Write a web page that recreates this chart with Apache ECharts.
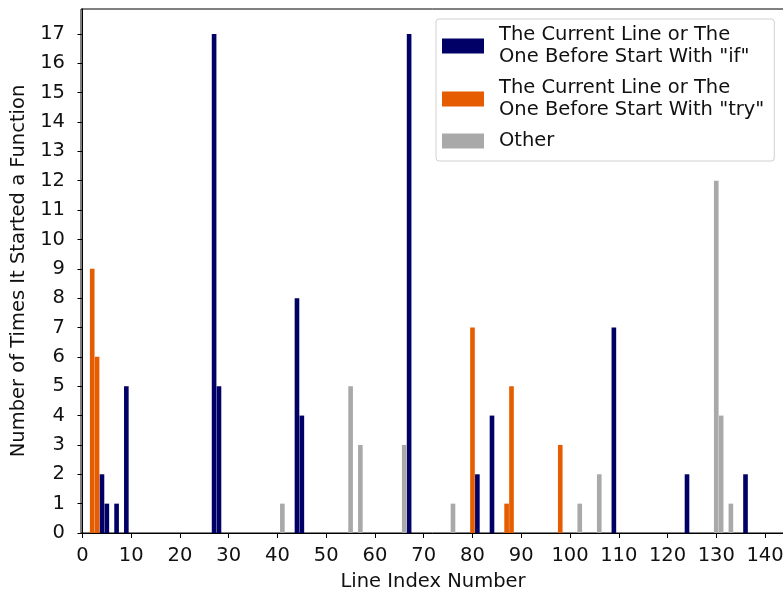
<!DOCTYPE html>
<html>
<head>
<meta charset="utf-8">
<script src="https://cdn.jsdelivr.net/npm/echarts@6/dist/echarts.min.js"></script>
<style>
html,body{margin:0;padding:0;background:#fff;}
#chart{width:783px;height:595px;}
</style>
</head>
<body>
<div id="chart"></div>
<script>
const ifX = [4, 5, 7, 9, 27, 28, 44, 45, 67, 81, 84, 109, 124, 136];
const ifY = [2, 1, 1, 5, 17, 5, 8, 4, 17, 2, 4, 7, 2, 2];
const tryX = [2, 3, 80, 87, 88, 98];
const tryY = [9, 6, 7, 1, 5, 3];
const otherX = [41, 55, 57, 66, 76, 102, 106, 130, 131, 133];
const otherY = [1, 5, 3, 3, 1, 1, 2, 12, 4, 1];
const xTicks = [0, 10, 20, 30, 40, 50, 60, 70, 80, 90, 100, 110, 120, 130, 140];
const yTicks = [0, 1, 2, 3, 4, 5, 6, 7, 8, 9, 10, 11, 12, 13, 14, 15, 16, 17];
const seriesNames = [
  'The Current Line or The\nOne Before Start With "if"',
  'The Current Line or The\nOne Before Start With "try"',
  'Other'
];
const colors = ['#000066', '#e65c00', '#a9a9a9'];
const xLabel = 'Line Index Number';
const yLabel = 'Number of Times It Started a Function';

const BAR_W = 0.95;
const FONT = 'DejaVu Sans';
const FS = 19.5;

function pairs(xs, ys) { return xs.map((x, i) => [x, ys[i]]); }

function renderBar(params, api) {
  const x = api.value(0), y = api.value(1);
  const p0 = api.coord([x - BAR_W / 2, y]);
  const p1 = api.coord([x + BAR_W / 2, 0]);
  return {
    type: 'rect',
    shape: { x: p0[0], y: p0[1], width: p1[0] - p0[0], height: p1[1] - p0[1] },
    style: { fill: api.visual('color') }
  };
}

const data = [pairs(ifX, ifY), pairs(tryX, tryY), pairs(otherX, otherY)];

const chart = echarts.init(document.getElementById('chart'), null, { renderer: 'canvas' });
chart.setOption({
  animation: false,
  backgroundColor: '#ffffff',
  textStyle: { fontFamily: FONT },
  grid: {
    left: 81, top: 9, right: -2, bottom: 62,
    containLabel: false,
    outerBoundsMode: 'none',
    show: true, borderColor: '#000', borderWidth: 1, backgroundColor: 'transparent'
  },
  legend: {
    orient: 'vertical',
    left: 436, top: 19,
    padding: [5, 10, 9, 6],
    itemGap: 9,
    itemWidth: 42, itemHeight: 15,
    icon: 'rect',
    backgroundColor: '#fff',
    borderColor: '#d0d0d0', borderWidth: 1, borderRadius: 3,
    textStyle: { fontFamily: FONT, fontSize: FS, lineHeight: 22, color: '#111', padding: [0, 0, 0, 10] },
    data: seriesNames
  },
  xAxis: {
    type: 'value',
    min: -0.3, max: 144.1,
    name: xLabel, nameLocation: 'middle', nameGap: 39,
    nameTextStyle: { fontFamily: FONT, fontSize: FS, color: '#111' },
    axisLine: { show: true, onZero: false, lineStyle: { color: '#000', width: 1 } },
    axisTick: { show: true, length: 5, lineStyle: { color: '#000' }, customValues: xTicks },
    axisLabel: { fontFamily: FONT, fontSize: FS, color: '#111', margin: 13, customValues: xTicks },
    splitLine: { show: false }
  },
  yAxis: {
    type: 'value',
    min: 0, max: 17.85,
    name: yLabel, nameLocation: 'middle', nameGap: 52, nameRotate: 90,
    nameTextStyle: { fontFamily: FONT, fontSize: FS, color: '#111' },
    axisLine: { show: true, lineStyle: { color: '#000', width: 1 } },
    axisTick: { show: true, length: 5, lineStyle: { color: '#000' }, customValues: yTicks },
    axisLabel: { fontFamily: FONT, fontSize: FS, color: '#111', margin: 16, customValues: yTicks },
    splitLine: { show: false }
  },
  series: seriesNames.map((name, i) => ({
    type: 'custom',
    name: name,
    renderItem: renderBar,
    itemStyle: { color: colors[i] },
    encode: { x: 0, y: 1 },
    data: data[i]
  }))
});
</script>
</body>
</html>
